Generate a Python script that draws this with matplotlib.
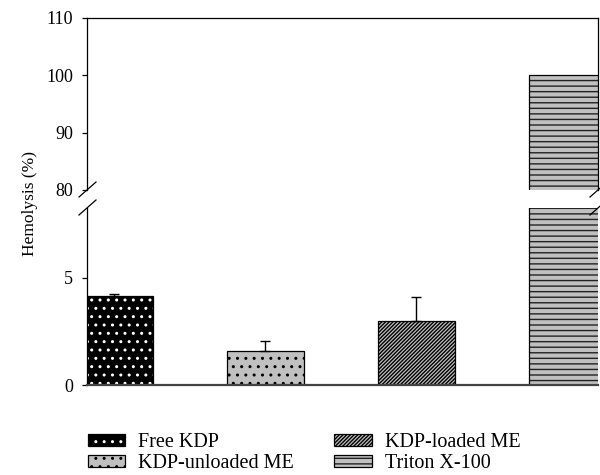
import matplotlib
matplotlib.use("Agg")
import matplotlib.pyplot as plt
from matplotlib.patches import Patch
from matplotlib.legend_handler import HandlerTuple
import numpy as np

categories = ["Free KDP", "KDP-unloaded ME", "KDP-loaded ME", "Triton X-100"]
values = [4.15, 1.57, 2.98, 100.0]
errors = [0.10, 0.47, 1.15, 0.0]

plt.rcParams['font.family'] = ['Liberation Serif', 'DejaVu Serif']
plt.rcParams['hatch.linewidth'] = 1.0

W, H = 600, 475
fig = plt.figure(figsize=(6, 4.75), dpi=100)

def fx(px):
    return px / W

def fy(py):
    return 1 - py / H

left, right = 87, 598
top_t, top_b = 18, 190
bot_t, bot_b = 208, 385

ax_top = fig.add_axes([fx(left), fy(top_b), fx(right) - fx(left), fy(top_t) - fy(top_b)])
ax_bot = fig.add_axes([fx(left), fy(bot_b), fx(right) - fx(left), fy(bot_t) - fy(bot_b)])

x = np.arange(len(categories))
width = 0.51
gray = '#c0c0c0'
styles = [
    dict(face='black', hatch='..', hatchcolor='white'),
    dict(face=gray, hatch='..', hatchcolor='black'),
    dict(face=gray, hatch='/' * 9, hatchcolor='black'),
    dict(face=gray, hatch='---', hatchcolor='#222222'),
]

for ax in (ax_top, ax_bot):
    for i, (v, e, st) in enumerate(zip(values, errors, styles)):
        ax.bar(x[i], v, width, color=st['face'], edgecolor=st['hatchcolor'],
               hatch=st['hatch'], linewidth=0, zorder=2)
        ax.bar(x[i], v, width, fill=False, edgecolor='black', linewidth=0.9, zorder=3)
        if e > 0:
            ax.errorbar(x[i], v, yerr=[[0], [e]], fmt='none', ecolor='black',
                        elinewidth=1.0, capsize=3.6, capthick=1.0, zorder=4)
    ax.set_xlim(-0.182, 3.202)
    ax.set_xticks([])
    ax.tick_params(axis='y', direction='out', length=3.6, width=0.9, labelsize=13, pad=6.5)

ax_top.set_ylim(80, 110)
ax_top.set_yticks([80, 90, 100, 110])
ax_top.spines['bottom'].set_visible(False)
for s in ('top', 'right', 'left'):
    ax_top.spines[s].set_linewidth(0.9)

ax_bot.set_ylim(0, (bot_b - bot_t) / 21.4)
ax_bot.set_yticks([0, 5])
ax_bot.spines['top'].set_visible(False)
ax_bot.spines['right'].set_visible(False)
ax_bot.spines['left'].set_linewidth(0.9)
ax_bot.spines['bottom'].set_linewidth(1.6)
ax_bot.spines['bottom'].set_color('#444444')
ax_bot.spines['bottom'].set_zorder(5)

# break marks (in pixel-based figure coordinates)
for cx in (left, right):
    for cy in (top_b, bot_t):
        fig.add_artist(plt.Line2D([fx(cx - 8), fx(cx + 9)], [fy(cy + 7), fy(cy - 8)],
                                  color='black', linewidth=0.9))

fig.text(fx(30), fy(203), "Hemolysis (%)", rotation=90, ha='center', va='center', fontsize=12.5)

handles = []
for st in styles:
    handles.append((Patch(facecolor=st['face'], edgecolor=st['hatchcolor'], hatch=st['hatch'], linewidth=0),
                    Patch(fill=False, edgecolor='black', linewidth=0.9)))
leg = fig.legend(handles, categories, ncol=2, loc='upper left',
                 bbox_to_anchor=(fx(82), fy(427)), frameon=False, fontsize=14.5,
                 handler_map={tuple: HandlerTuple(ndivide=1, pad=0)},
                 handlelength=1.85, handleheight=0.55, handletextpad=0.65,
                 columnspacing=2.0, labelspacing=0.1, borderaxespad=0, borderpad=0.3)

fig.savefig("out.png", dpi=100)
